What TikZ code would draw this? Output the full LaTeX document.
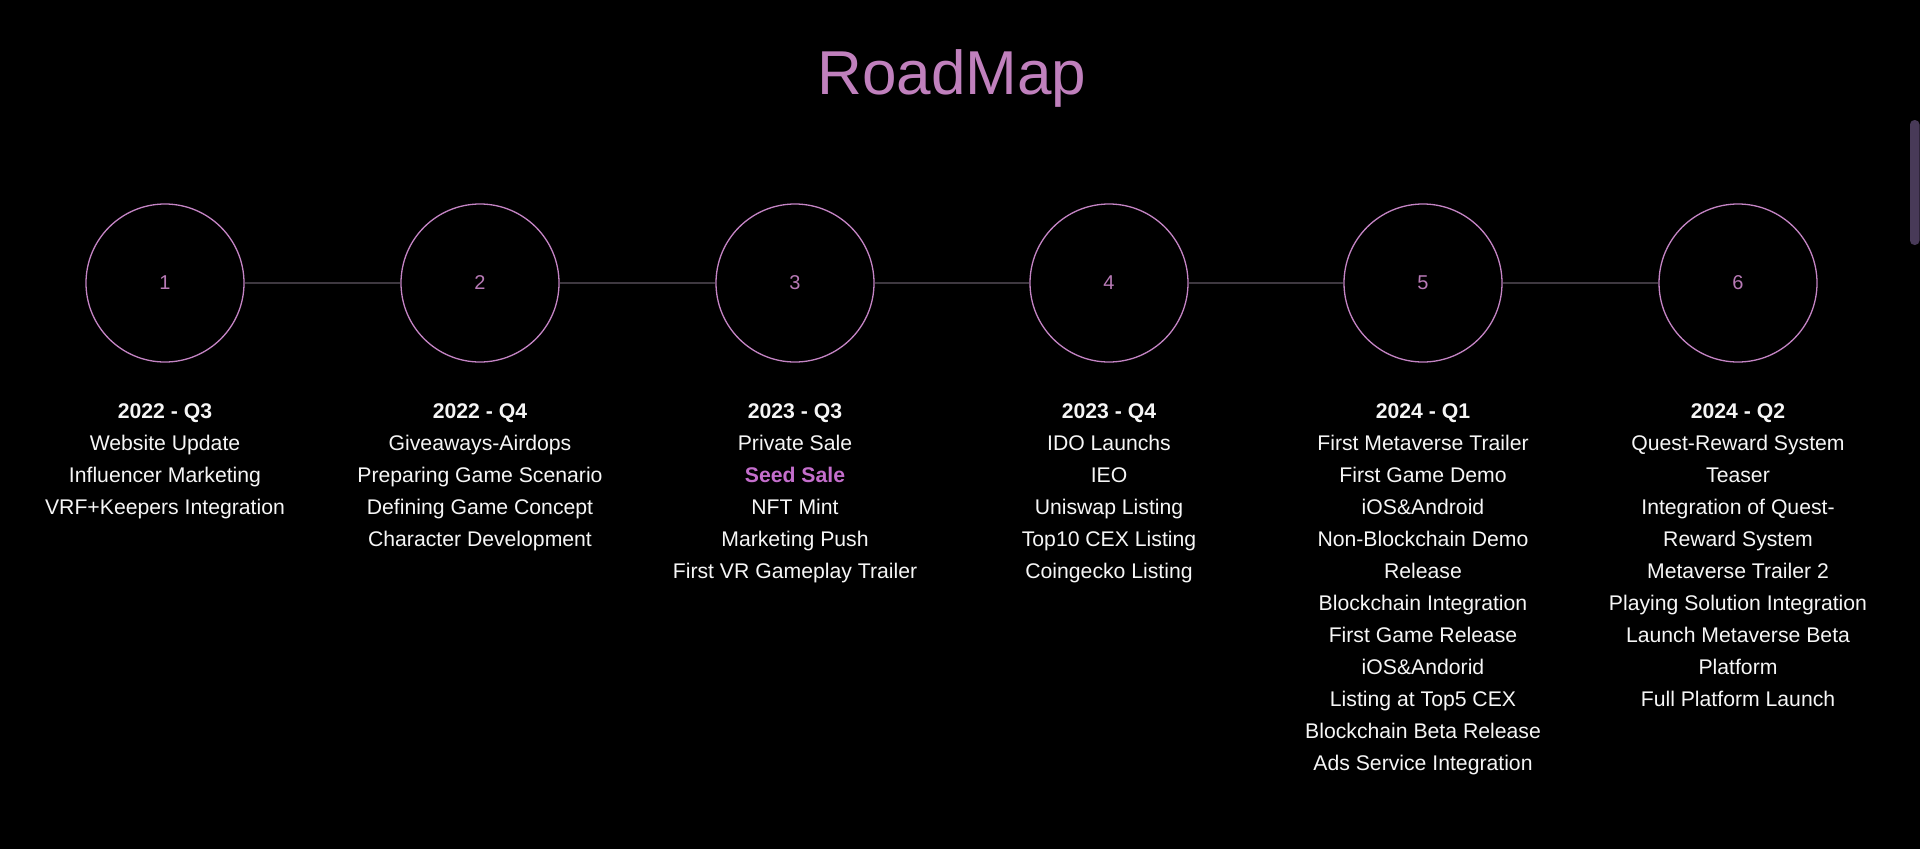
\documentclass[tikz,border=0pt]{standalone}
\usepackage{fontspec}
\setmainfont{Liberation Sans}
\usetikzlibrary{positioning}
\definecolor{titlepink}{RGB}{192,128,189}
\definecolor{ringpink}{RGB}{196,132,196}
\definecolor{numpink}{RGB}{184,122,182}
\definecolor{seedpink}{RGB}{196,110,204}
\definecolor{linkgrey}{RGB}{62,56,64}
\definecolor{barpurple}{RGB}{72,58,88}
\definecolor{softwhite}{RGB}{246,246,246}

\begin{document}
\begin{tikzpicture}[x=1pt, y=-1pt,
  stage/.style={circle, draw=ringpink, line width=1.3pt, minimum size=158pt,
    inner sep=0pt, text=numpink, font=\fontsize{20}{24}\selectfont},
  milestones/.style={anchor=north, align=center, inner sep=0pt, text=softwhite,
    font=\fontsize{21.2}{32}\selectfont},
  link/.style={draw=linkgrey, line width=1.6pt}]
  \fill[black] (0,0) rectangle (1920,849);
  \useasboundingbox (0,0) rectangle (1920,849);

  \node[text=titlepink, font=\fontsize{62}{70}\selectfont] (title) at (952,78) {RoadMap};

  % stages
  \node[stage] (c1) at (165,283) {1};
  \node[stage] (c2) at (480,283) {2};
  \node[stage] (c3) at (795,283) {3};
  \node[stage] (c4) at (1109,283) {4};
  \node[stage] (c5) at (1423,283) {5};
  \node[stage] (c6) at (1738,283) {6};
  \draw[link] (c1) -- (c2);
  \draw[link] (c2) -- (c3);
  \draw[link] (c3) -- (c4);
  \draw[link] (c4) -- (c5);
  \draw[link] (c5) -- (c6);

  % quarters
  \node[milestones, below=41pt of c1] (q1) {{\bfseries 2022 - Q3}\\Website Update\\Influencer Marketing\\VRF+Keepers Integration};
  \node[milestones, below=41pt of c2] (q2) {{\bfseries 2022 - Q4}\\Giveaways-Airdops\\Preparing Game Scenario\\Defining Game Concept\\Character Development};
  \node[milestones, below=41pt of c3] (q3) {{\bfseries 2023 - Q3}\\Private Sale\\{\bfseries\color{seedpink}Seed Sale}\\NFT Mint\\Marketing Push\\First VR Gameplay Trailer};
  \node[milestones, below=41pt of c4] (q4) {{\bfseries 2023 - Q4}\\IDO Launchs\\IEO\\Uniswap Listing\\Top10 CEX Listing\\Coingecko Listing};
  \node[milestones, below=41pt of c5] (q5) {{\bfseries 2024 - Q1}\\First Metaverse Trailer\\First Game Demo\\iOS\&Android\\Non-Blockchain Demo\\Release\\Blockchain Integration\\First Game Release\\iOS\&Andorid\\Listing at Top5 CEX\\Blockchain Beta Release\\Ads Service Integration};
  \node[milestones, below=41pt of c6] (q6) {{\bfseries 2024 - Q2}\\Quest-Reward System\\Teaser\\Integration of Quest-\\Reward System\\Metaverse Trailer 2\\Playing Solution Integration\\Launch Metaverse Beta\\Platform\\Full Platform Launch};

  % scroll bar
  \fill[barpurple, rounded corners=4.5pt] (1910,120) rectangle (1919.5,245);
\end{tikzpicture}
\end{document}
